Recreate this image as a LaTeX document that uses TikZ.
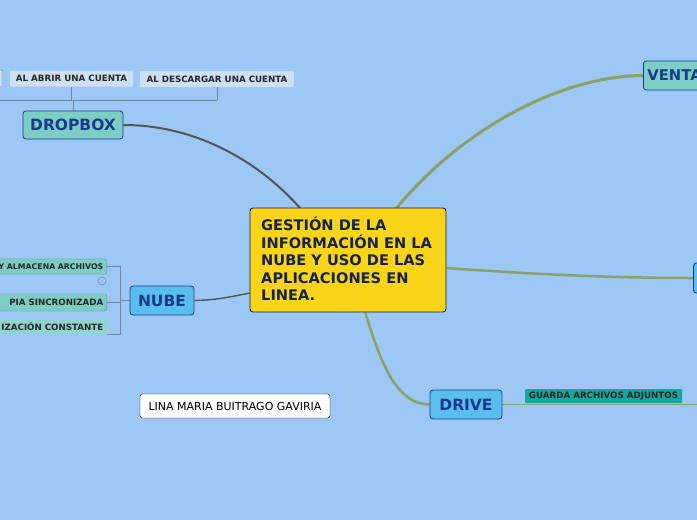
\documentclass[tikz,border=0pt]{standalone}
\usepackage{fontspec}
\setmainfont{DejaVu Sans}
\usetikzlibrary{backgrounds}
\definecolor{bg}{RGB}{157,200,245}
\definecolor{mainyel}{RGB}{250,212,25}
\definecolor{navy}{RGB}{20,34,80}
\definecolor{hdr}{RGB}{28,58,140}
\definecolor{tealA}{RGB}{124,206,196}
\definecolor{blueA}{RGB}{88,190,238}
\definecolor{tealB}{RGB}{18,168,160}
\definecolor{subbox}{RGB}{204,224,242}
\definecolor{olive}{RGB}{140,160,104}
\definecolor{darkln}{RGB}{85,85,85}
\definecolor{brk}{RGB}{120,136,152}
\begin{document}
\begin{tikzpicture}[x=1pt,y=-1pt,
  topic/.style={draw=hdr,line width=0.8pt,rounded corners=3pt,font=\bfseries\fontsize{15.5}{17}\selectfont,text=hdr,inner sep=0pt},
  sub/.style={fill=subbox,rounded corners=1pt,font=\bfseries\fontsize{8.7}{9}\selectfont,text=black!85,inner sep=0pt,minimum height=16pt},
  nsub/.style={fill=tealA,draw=brk,rounded corners=2pt,font=\bfseries\fontsize{8.7}{9}\selectfont,text=black!85,inner ysep=0pt,inner xsep=3.5pt,align=right,text width=150pt},
  olv/.style={draw=olive,line cap=round},
  brline/.style={draw=brk,line width=0.8pt}]
\useasboundingbox (0,0) rectangle (697,520);
% nodes
\node[draw=navy,line width=0.9pt,fill=mainyel,rounded corners=3pt,minimum width=196pt,minimum height=104pt,inner sep=0pt] (c) at (348,260) {};
\node[anchor=north west,text=navy,font=\bfseries\fontsize{14.6}{17.5}\selectfont,align=left,inner sep=0pt] (ct) at (261,217) {GESTIÓN DE LA\\INFORMACIÓN EN LA\\NUBE Y USO DE LAS\\APLICACIONES EN\\LINEA.};
\node[topic,fill=tealA,minimum width=100pt,minimum height=28pt] (dbx) at (73,125) {DROPBOX};
\node[topic,fill=blueA,minimum width=64pt,minimum height=29pt] (nube) at (162,300.5) {NUBE};
\node[topic,fill=blueA,minimum width=72pt,minimum height=29pt] (drive) at (466,404.5) {DRIVE};
\node[topic,fill=tealA,minimum width=90pt,minimum height=29pt,anchor=west,text width=82pt,align=left,inner xsep=4pt,font=\bfseries\fontsize{14.8}{17}\selectfont] (venta) at (643,75.5) {VENTA};
\node[topic,fill=blueA,minimum width=40pt,minimum height=30pt,anchor=west] (rt) at (693,278) {};
\node[fill=tealB,rounded corners=1pt,minimum width=157pt,minimum height=14pt,inner sep=0pt,font=\bfseries\fontsize{8.7}{9}\selectfont,text=black!85] (guarda) at (603.5,396) {GUARDA ARCHIVOS ADJUNTOS};
\node[sub,minimum width=123pt] (ab1) at (71.5,78.5) {AL ABRIR UNA CUENTA};
\node[sub,minimum width=154pt] (ab2) at (217,79) {AL DESCARGAR UNA CUENTA};
\node[draw=brk,fill=subbox,rounded corners=1pt,minimum width=24pt,minimum height=17pt,inner sep=0pt] (ab0) at (-10,78.5) {};
\node[nsub,minimum height=15pt,anchor=east,font=\bfseries\fontsize{7.8}{9}\selectfont] (n1) at (107,266.5) {Y ALMACENA ARCHIVOS};
\node[nsub,minimum height=17pt,anchor=east] (n2) at (107,302.5) {PIA SINCRONIZADA};
\node[nsub,draw=none,fill=tealA!85!white,minimum height=15pt,anchor=east,rounded corners=0pt] (n3) at (107,326.5) {IZACIÓN CONSTANTE};
\node[name=lina,draw=black,fill=white,rounded corners=2.5pt,minimum width=190pt,minimum height=24pt,inner sep=0pt,font=\fontsize{11}{13}\selectfont] at (235,406) {LINA MARIA BUITRAGO GAVIRIA};
\node[draw=brk,circle,inner sep=0pt,minimum size=8pt,line width=0.6pt] (ic) at (102,281) {};
\begin{scope}[on background layer]
\fill[bg] (0,0) rectangle (697,520);
% connectors
\draw[darkln,line width=2pt] (dbx.east) .. controls (200,125) and (262,165) .. (300,208);
\draw[olv,line width=3pt] (395,210) .. controls (460,130) and (560,76) .. (venta.west);
\draw[olv,line width=2.5pt] (446,268) .. controls (530,274) and (610,278) .. (rt.west);
\draw[olv,line width=2.5pt] (365,312) .. controls (380,360) and (395,404) .. (drive.west);
\draw[darkln,line width=1.4pt] (250,293) .. controls (225,298) and (215,300) .. (nube.east);
\draw[olv,line width=0.8pt] (drive.east) -- (697,404.5);
% dropbox bracket
\draw[brline] (dbx.north) -- (73,100);
\draw[brline] (0,100) -- (217,100);
\draw[brline] (ab1.south) -- (71.5,100);
\draw[brline] (ab2.south) -- (217,100);
% nube bracket
\draw[brline] (nube.west) -- (120,300.5);
\draw[brline] (n1.east) -- (120,266.5) -- (120,334) -- (107,334);
\draw[brline] (n2.east) -- (120,302.5);
\end{scope}
\end{tikzpicture}
\end{document}
